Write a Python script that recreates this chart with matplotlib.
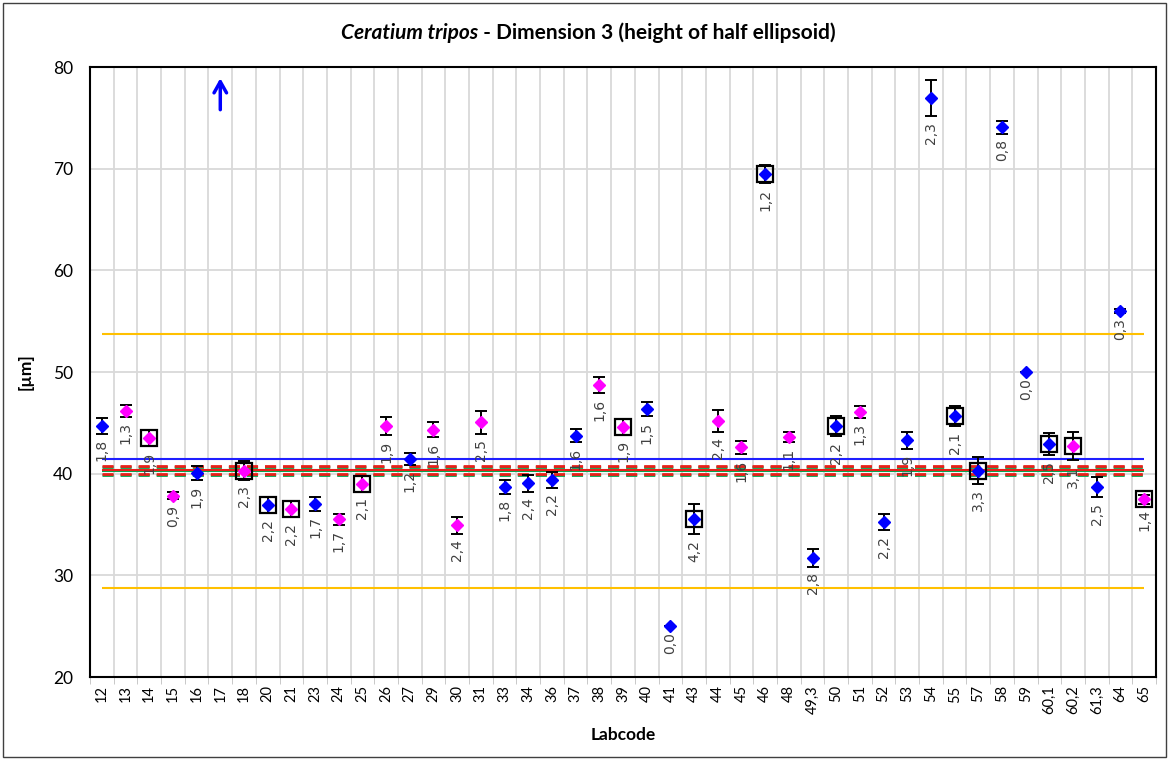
import matplotlib
matplotlib.use('Agg')
import matplotlib.pyplot as plt
from matplotlib.patches import Rectangle
import numpy as np

plt.rcParams['font.family'] = ['Lato', 'DejaVu Sans']

# data
labcodes = ['12', '13', '14', '15', '16', '17', '18', '20', '21', '23', '24', '25', '26', '27',
            '29', '30', '31', '33', '34', '36', '37', '38', '39', '40', '41', '43', '44', '45',
            '46', '48', '49,3', '50', '51', '52', '53', '54', '55', '57', '58', '59', '60,1',
            '60,2', '61,3', '64', '65']
means = [44.72, 46.16, 43.48, 37.83, 40.04, np.nan, 40.30, 36.92, 36.53, 37.02, 35.51, 38.98,
         44.69, 41.45, 44.33, 34.92, 45.05, 38.72, 39.05, 39.38, 43.74, 48.72, 44.62, 46.33,
         25.00, 35.54, 45.18, 42.59, 69.45, 43.57, 31.71, 44.69, 46.10, 35.25, 43.28, 76.92,
         45.67, 40.30, 74.07, 49.97, 42.89, 42.72, 38.66, 56.00, 37.48]
errors = [0.77, 0.57, 0.80, 0.33, 0.70, np.nan, 0.90, 0.80, 0.80, 0.65, 0.55, 0.77,
          0.90, 0.57, 0.74, 0.85, 1.13, 0.70, 0.84, 0.75, 0.67, 0.82, 0.77, 0.69,
          0.00, 1.50, 1.08, 0.67, 0.90, 0.48, 0.87, 1.00, 0.60, 0.80, 0.82, 1.77,
          1.00, 1.30, 0.62, 0.00, 1.10, 1.40, 0.97, 0.15, 0.45]
sd_labels = ['1,8', '1,3', '1,9', '0,9', '1,9', '', '2,3', '2,2', '2,2', '1,7', '1,7', '2,1',
             '1,9', '1,2', '1,6', '2,4', '2,5', '1,8', '2,4', '2,2', '1,6', '1,6', '1,9', '1,5',
             '0,0', '4,2', '2,4', '1,6', '1,2', '1,1', '2,8', '2,2', '1,3', '2,2', '1,9', '2,3',
             '2,1', '3,3', '0,8', '0,0', '2,5', '3,1', '2,5', '0,3', '1,4']
magenta_labs = ['13', '14', '15', '18', '21', '24', '25', '26', '29', '30', '31', '38', '39',
                '44', '45', '48', '51', '60,2', '65']
boxed_labs = ['14', '18', '20', '21', '25', '39', '43', '46', '50', '55', '57', '60,1', '60,2', '65']
offscale_labs = ['17']

assigned_mean = 41.45
limits = [53.75, 28.80]
red_mean, red_band = 40.38, [40.78, 39.98]
green_mean, green_band = 40.28, [40.66, 39.90]

means = np.array(means)
errors = np.array(errors)
x = np.arange(len(labcodes))
is_mag = np.array([lab in magenta_labs for lab in labcodes])
is_box = np.array([lab in boxed_labs for lab in labcodes])

fig = plt.figure(figsize=(11.7, 7.6), dpi=100)
ax = fig.add_axes([90 / 1170, 1 - 677 / 760, (1156 - 90) / 1170, (677 - 67) / 760])

# reference lines
x0, x1 = x[0], x[-1]
ax.hlines(limits, x0, x1, colors='#FFC000', lw=1.5, zorder=2)
ax.hlines(assigned_mean, x0, x1, colors='#1F1FFF', lw=1.5, zorder=2)
ax.hlines(green_mean, x0, x1, colors='#00A650', lw=1.5, zorder=2)
ax.hlines(green_band, x0, x1, colors='#00A650', lw=2, linestyles=(0, (4, 2.5)), zorder=2)
ax.hlines(red_mean, x0, x1, colors='#E8201A', lw=1.5, zorder=2)
ax.hlines(red_band, x0, x1, colors='#E8201A', lw=2, linestyles=(0, (4, 2.5)), zorder=2)

# error bars and markers
ok = ~np.isnan(means)
ax.errorbar(x[ok], means[ok], yerr=errors[ok], fmt='none', ecolor='black',
            elinewidth=1.4, capsize=4, capthick=1.4, zorder=3)
ax.plot(x[ok & is_box], means[ok & is_box], 's', ms=11, mfc='none', mec='black', mew=1.6, zorder=4)
ax.plot(x[ok & ~is_mag], means[ok & ~is_mag], 'D', ms=6, color='#0000FF', zorder=5)
ax.plot(x[ok & is_mag], means[ok & is_mag], 'D', ms=6, color='#FF00FF', zorder=5)

for xi, m, e, lab in zip(x, means, errors, sd_labels):
    if np.isnan(m):
        continue
    ax.annotate(lab, (xi, m - e), xytext=(0, -4), textcoords='offset points',
                rotation=90, ha='center', va='top', fontsize=10, color='#404040',
                family=['DejaVu Sans'], zorder=6)

# values above the scale
for lab in offscale_labs:
    xi = labcodes.index(lab)
    ax.annotate('', xy=(xi, 78.9), xytext=(xi, 75.8),
                arrowprops=dict(arrowstyle='->,head_width=0.45,head_length=0.8',
                                color='#0000FF', lw=2.5, shrinkA=0, shrinkB=0))

ax.set_xlim(-0.5, len(labcodes) - 0.5)
ax.set_ylim(20, 80)
ax.set_yticks(np.arange(20, 81, 10))
ax.set_xticks(x)
ax.set_xticklabels(labcodes, rotation=90, fontsize=10.5)
ax.set_xticks(np.arange(-0.5, len(labcodes), 1), minor=True)
ax.tick_params(axis='x', which='major', length=0, pad=6)
ax.tick_params(axis='x', which='minor', length=5, color='#BFBFBF')
ax.tick_params(axis='y', labelsize=12.5, length=0, pad=12)
ax.grid(True, which='minor', axis='x', color='#D9D9D9', lw=1.3, zorder=0)
ax.grid(True, which='major', axis='y', color='#D9D9D9', lw=1.3, zorder=0)
ax.set_axisbelow(True)
for sp in ax.spines.values():
    sp.set_linewidth(1.5)
    sp.set_color('black')

ax.set_xlabel('Labcode', fontsize=12.5, weight='bold', labelpad=9)
ax.set_ylabel('[µm]', fontsize=12.5, weight='bold', labelpad=14)

# title with italic species name
fig.canvas.draw()
r = fig.canvas.get_renderer()
ty = 1 - 33 / 760
t1 = fig.text(0, ty, 'Ceratium tripos', style='italic', weight='bold', fontsize=15, va='center')
t2 = fig.text(0, ty, ' - Dimension 3 (height of half ellipsoid)', weight='bold', fontsize=15, va='center')
w1 = t1.get_window_extent(r).width
w2 = t2.get_window_extent(r).width
start = (588 - (w1 + w2) / 2) / 1170
t1.set_x(start)
t2.set_x(start + w1 / 1170)

fig.patches.append(Rectangle((3 / 1170, 3 / 760), 1163 / 1170, 754 / 760, transform=fig.transFigure,
                             fill=False, ec='#404040', lw=1))

fig.savefig('out.png', dpi=100)
